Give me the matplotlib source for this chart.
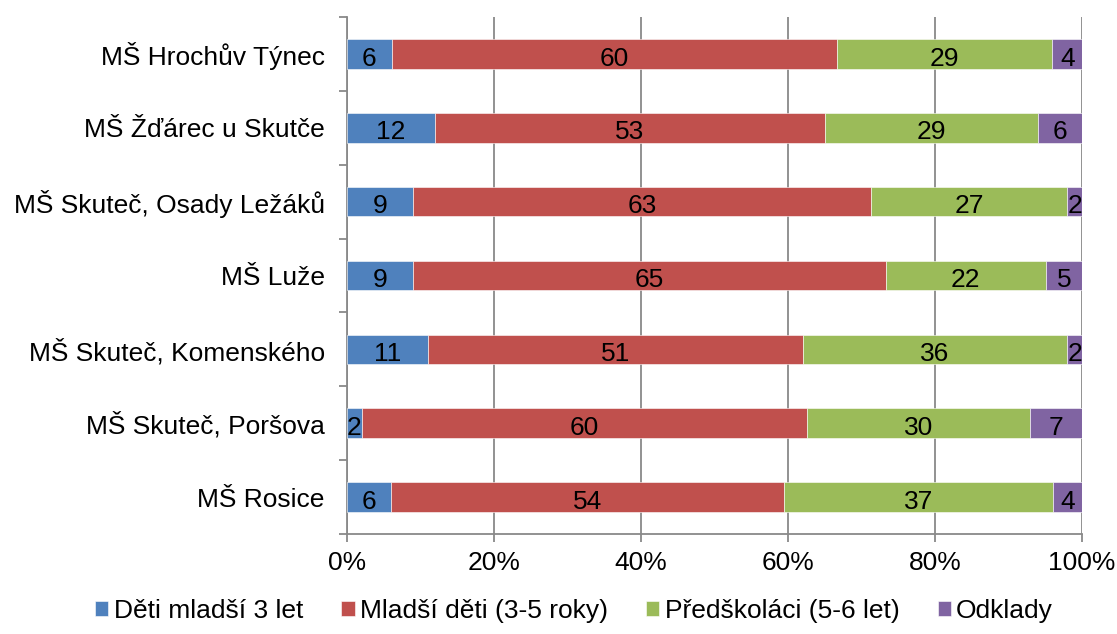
import numpy as np
import matplotlib
matplotlib.use("Agg")
import matplotlib.pyplot as plt
from matplotlib.ticker import PercentFormatter, FixedLocator

plt.rcParams['font.family'] = ['Liberation Sans', 'DejaVu Sans']

skolky = ['MŠ Hrochův Týnec', 'MŠ Žďárec u Skutče', 'MŠ Skuteč, Osady Ležáků',
          'MŠ Luže', 'MŠ Skuteč, Komenského', 'MŠ Skuteč, Poršova', 'MŠ Rosice']
deti_mladsi_3 = [6, 12, 9, 9, 11, 2, 6]
mladsi_deti = [60, 53, 63, 65, 51, 60, 54]
predskolaci = [29, 29, 27, 22, 36, 30, 37]
odklady = [4, 6, 2, 5, 2, 7, 4]

serie = [
    ('Děti mladší 3 let', deti_mladsi_3, '#4F81BD'),
    ('Mladší děti (3-5 roky)', mladsi_deti, '#C0504D'),
    ('Předškoláci (5-6 let)', predskolaci, '#9BBB59'),
    ('Odklady', odklady, '#8064A2'),
]

grid_c = '#898989'
fs = 19

fig = plt.figure(figsize=(11.17, 6.34), dpi=100)
ax = fig.add_axes([0.3107, 0.1577, 0.9687 - 0.3107, 0.9732 - 0.1577])

vals = np.array([s[1] for s in serie], dtype=float)
podil = vals / vals.sum(axis=0) * 100
y = np.arange(len(skolky))
left = np.zeros(len(skolky))
for (nazev, hodnoty, barva), p in zip(serie, podil):
    ax.barh(y, p, left=left, height=0.4, color=barva, label=nazev,
            edgecolor='white', linewidth=0.4, zorder=3)
    for yi, xi, wi, v in zip(y, left, p, hodnoty):
        ax.text(xi + wi / 2, yi + 0.03, str(v), ha='center', va='center_baseline',
                fontsize=fs, color='black', zorder=4)
    left += p

ax.set_xlim(0, 100)
ax.set_ylim(len(skolky) - 0.5, -0.5)
ax.set_yticks(y)
ax.set_yticklabels(skolky, fontsize=fs)
ax.yaxis.set_minor_locator(FixedLocator(np.arange(-0.5, len(skolky), 1)))
ax.tick_params(axis='y', which='major', length=0, pad=16)
ax.tick_params(axis='y', which='minor', length=5.5, width=1.3, color=grid_c)

ax.set_xticks(np.arange(0, 101, 20))
ax.xaxis.set_major_formatter(PercentFormatter(decimals=0))
ax.tick_params(axis='x', length=6, width=1.3, color=grid_c, labelsize=fs, pad=6)
ax.grid(axis='x', color=grid_c, linewidth=1.3, zorder=0)

for s in ['top', 'right']:
    ax.spines[s].set_visible(False)
for s in ['left', 'bottom']:
    ax.spines[s].set_color(grid_c)
    ax.spines[s].set_linewidth(1.3)

fig.legend(loc='lower center', bbox_to_anchor=(0.514, -0.02), ncol=4,
           frameon=False, fontsize=fs, handlelength=0.5, handleheight=0.5,
           handletextpad=0.2, columnspacing=1.45)

fig.savefig('out.png', dpi=100)
